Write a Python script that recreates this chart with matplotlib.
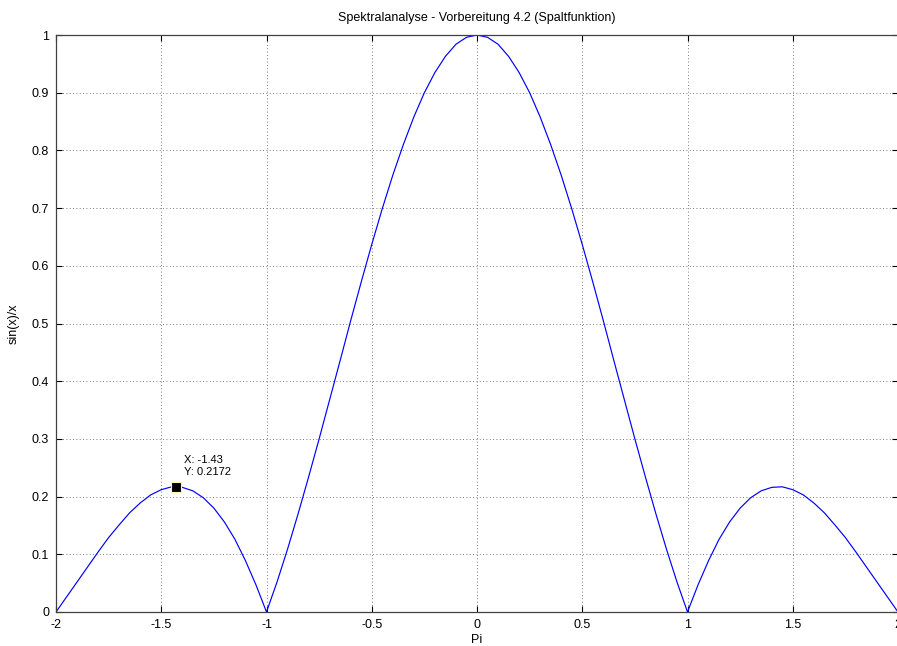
import matplotlib
matplotlib.use("Agg")
import matplotlib.pyplot as plt

x_vals = [-2.00, -1.95, -1.90, -1.85, -1.80, -1.75, -1.70, -1.65, -1.60, -1.55,
          -1.50, -1.45, -1.40, -1.35, -1.30, -1.25, -1.20, -1.15, -1.10, -1.05,
          -1.00, -0.95, -0.90, -0.85, -0.80, -0.75, -0.70, -0.65, -0.60, -0.55,
          -0.50, -0.45, -0.40, -0.35, -0.30, -0.25, -0.20, -0.15, -0.10, -0.05,
          0.00, 0.05, 0.10, 0.15, 0.20, 0.25, 0.30, 0.35, 0.40, 0.45,
          0.50, 0.55, 0.60, 0.65, 0.70, 0.75, 0.80, 0.85, 0.90, 0.95,
          1.00, 1.05, 1.10, 1.15, 1.20, 1.25, 1.30, 1.35, 1.40, 1.45,
          1.50, 1.55, 1.60, 1.65, 1.70, 1.75, 1.80, 1.85, 1.90, 1.95, 2.00]
y_vals = [0.000, 0.026, 0.052, 0.078, 0.104, 0.129, 0.151, 0.172, 0.189, 0.203,
          0.212, 0.217, 0.216, 0.210, 0.198, 0.180, 0.156, 0.126, 0.089, 0.047,
          0.000, 0.052, 0.109, 0.170, 0.234, 0.300, 0.368, 0.436, 0.505, 0.572,
          0.637, 0.699, 0.757, 0.810, 0.858, 0.900, 0.935, 0.963, 0.984, 0.996,
          1.000, 0.996, 0.984, 0.963, 0.935, 0.900, 0.858, 0.810, 0.757, 0.699,
          0.637, 0.572, 0.505, 0.436, 0.368, 0.300, 0.234, 0.170, 0.109, 0.052,
          0.000, 0.047, 0.089, 0.126, 0.156, 0.180, 0.198, 0.210, 0.216, 0.217,
          0.212, 0.203, 0.189, 0.172, 0.151, 0.129, 0.104, 0.078, 0.052, 0.026, 0.000]

x_ticks = [-2, -1.5, -1, -0.5, 0, 0.5, 1, 1.5, 2]
x_tick_labels = ["-2", "-1.5", "-1", "-0.5", "0", "0.5", "1", "1.5", "2"]
y_ticks = [0, 0.1, 0.2, 0.3, 0.4, 0.5, 0.6, 0.7, 0.8, 0.9, 1]
y_tick_labels = ["0", "0.1", "0.2", "0.3", "0.4", "0.5", "0.6", "0.7", "0.8", "0.9", "1"]

tip_x = -1.43
tip_y = 0.2172

plt.rcParams['font.family'] = ['Liberation Sans', 'DejaVu Sans']
W, H = 897, 646
fig = plt.figure(figsize=(W / 100, H / 100), dpi=100)
left, right, top, bottom = 56, 898, 35, 612
ax = fig.add_axes([left / W, 1 - bottom / H, (right - left) / W, (bottom - top) / H])

ax.plot(x_vals, y_vals, color='#0000ff', lw=0.85)
ax.set_xlim(-2, 2)
ax.set_ylim(0, 1)
ax.set_xticks(x_ticks)
ax.set_xticklabels(x_tick_labels)
ax.set_yticks(y_ticks)
ax.set_yticklabels(y_tick_labels)
ax.tick_params(direction='in', length=4, width=0.8, top=True, right=True,
               labelsize=9, colors='#000000', pad=5)
for s in ax.spines.values():
    s.set_color('#404040')
    s.set_linewidth(0.9)
ax.grid(True, linestyle=(0, (1, 3)), color='#505050', lw=0.6)

ax.set_title("Spektralanalyse - Vorbereitung 4.2 (Spaltfunktion)", fontsize=9, pad=10)
ax.set_xlabel("Pi", fontsize=9, labelpad=2)
ax.set_ylabel("sin(x)/x", fontsize=9, labelpad=9)

ax.plot([tip_x], [tip_y], marker='s', ms=6.5, mfc='black', mec='#fff6b0', mew=0.8,
        linestyle='none', zorder=5)
ax.annotate("X: %.2f\nY: %.4f" % (tip_x, tip_y), xy=(tip_x, tip_y),
            xytext=(8, 10), textcoords='offset pixels', fontsize=8,
            ha='left', va='bottom', linespacing=1.25)

fig.savefig("out.png", dpi=100, facecolor='white')
